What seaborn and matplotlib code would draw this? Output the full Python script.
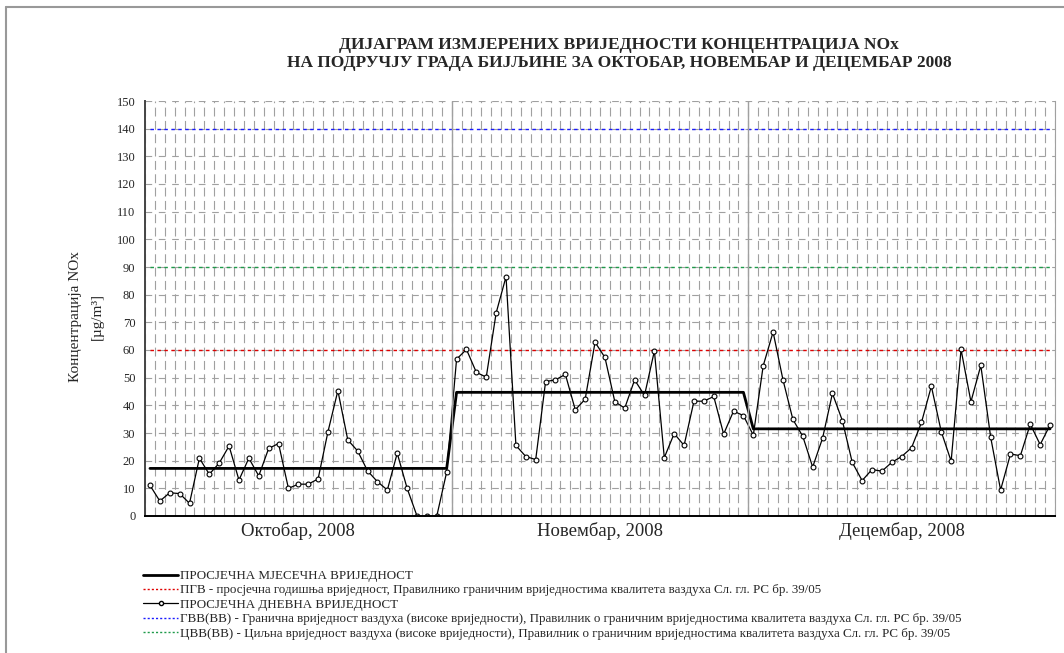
import numpy as np
import pandas as pd
import matplotlib.pyplot as plt
from matplotlib.lines import Line2D
import seaborn as sns

months = ["Октобар, 2008", "Новембар, 2008", "Децембар, 2008"]
oct_values = [11.1, 5.4, 8.4, 8.1, 4.6, 20.9, 15.1, 19.1, 25.3, 13.0, 20.9, 14.5, 24.4, 26.2, 10.0, 11.5,
              11.5, 13.4, 30.5, 45.3, 27.5, 23.5, 16.3, 12.4, 9.4, 22.7, 10.0, 0, 0, 0, 15.9]
nov_values = [56.7, 60.2, 51.9, 50.2, 73.4, 86.5, 25.5, 21.5, 20.4, 48.6, 49.2, 51.2, 38.4, 42.2, 62.8,
              57.3, 41.3, 39.0, 49.2, 43.6, 59.7, 21.1, 29.8, 25.5, 41.5, 41.5, 43.2, 29.6, 37.9, 36.3]
dec_values = [29.2, 54.3, 66.5, 49.2, 34.9, 28.8, 17.7, 28.1, 44.3, 34.5, 19.4, 12.8, 16.8, 16.2, 19.4, 21.5,
              24.7, 33.8, 46.9, 30.5, 19.8, 60.2, 41.3, 54.4, 28.4, 9.4, 22.4, 21.8, 33.2, 25.8, 32.9]
monthly_avg = [17.2, 44.7, 31.5]
pgv_limit = 60
cvv_limit = 90
gvv_limit = 140

month_values = [oct_values, nov_values, dec_values]
rows = []
for m, vals in enumerate(month_values):
    for v in vals:
        rows.append({"month": m, "daily": v, "avg": monthly_avg[m]})
df = pd.DataFrame(rows)
df["day"] = np.arange(len(df))
n = len(df)
df["pgv"] = pgv_limit
df["cvv"] = cvv_limit
df["gvv"] = gvv_limit

sns.set_style("white")
plt.rcParams["font.family"] = ["Liberation Serif", "DejaVu Serif"]

fig = plt.figure(figsize=(10.64, 6.53), dpi=100)
ax = fig.add_axes([145 / 1064, 137 / 653, 910 / 1064, 415 / 653])

# limit lines
sns.lineplot(data=df, x="day", y="gvv", ax=ax, color="#1a1aff", lw=1, linestyle=(0, (2.5, 2.5)))
sns.lineplot(data=df, x="day", y="cvv", ax=ax, color="#1e9a4a", lw=1, linestyle=(0, (2.5, 2.5)))
sns.lineplot(data=df, x="day", y="pgv", ax=ax, color="#e00000", lw=1, linestyle=(0, (2.5, 2.5)))

# monthly average and daily values
sns.lineplot(data=df, x="day", y="avg", ax=ax, color="black", lw=2)
sns.lineplot(data=df, x="day", y="daily", ax=ax, color="black", lw=0.9, marker="o",
             markersize=3.5, markerfacecolor="white", markeredgecolor="black", markeredgewidth=0.8)

ax.set_xlim(-0.5, n - 0.5)
ax.set_ylim(0, 150)
ax.set_yticks(np.arange(0, 151, 10))
ax.set_xticks(np.arange(-0.5, n, 1))
ax.set_xticklabels([])
ax.tick_params(axis="x", length=3, width=0.8, direction="out", color="black")
ax.tick_params(axis="y", length=5, width=0.8, direction="out", color="#555555", labelsize=9, pad=2)
ax.set_xlabel("")
ax.set_ylabel("")

ax.grid(axis="x", color="#a0a0a0", lw=0.8, linestyle=(0, (8, 4)))
ax.grid(axis="y", color="#a0a0a0", lw=0.8, linestyle=(0, (6, 6)))
ax.set_axisbelow(True)

# month separators
start = 0
for vals in month_values[:-1]:
    start += len(vals)
    ax.axvline(start - 0.5, color="#a0a0a0", lw=1)

start = 0
for name, vals in zip(months, month_values):
    ax.text(start + len(vals) / 2 - 0.5, -0.037, name, transform=ax.get_xaxis_transform(),
            ha="center", va="center", fontsize=13.5)
    start += len(vals)

ax.spines["top"].set_visible(False)
ax.spines["right"].set_color("#a0a0a0")
ax.spines["left"].set_color("#444444")
ax.spines["left"].set_linewidth(1.4)
ax.spines["bottom"].set_color("black")
ax.spines["bottom"].set_linewidth(1.4)

fig.text(619 / 1064, 1 - 45 / 653, "ДИЈАГРАМ ИЗМЈЕРЕНИХ ВРИЈЕДНОСТИ КОНЦЕНТРАЦИЈА NOx",
         ha="center", va="center", fontsize=12.5, fontweight="bold")
fig.text(619 / 1064, 1 - 63 / 653, "НА ПОДРУЧЈУ ГРАДА БИЈЉИНЕ ЗА ОКТОБАР, НОВЕМБАР И ДЕЦЕМБАР 2008",
         ha="center", va="center", fontsize=12.5, fontweight="bold")
fig.text(75 / 1064, 1 - 317 / 653, "Концентрација NOx", rotation=90, ha="center", va="center", fontsize=11)
fig.text(97 / 1064, 1 - 317 / 653, "[µg/m³]", rotation=90, ha="center", va="center", fontsize=11)

# outer border (top and left visible)
fig.add_artist(Line2D([6 / 1064, 6 / 1064], [0, 1 - 7 / 653], color="#999999", lw=1.5,
                      transform=fig.transFigure))
fig.add_artist(Line2D([6 / 1064, 1], [1 - 7 / 653, 1 - 7 / 653], color="#999999", lw=1.5,
                      transform=fig.transFigure))

handles = [
    Line2D([], [], color="black", lw=2),
    Line2D([], [], color="#e00000", lw=1, linestyle=(0, (1.5, 1.5))),
    Line2D([], [], color="black", lw=0.9, marker="o", markersize=3,
           markerfacecolor="white", markeredgecolor="black"),
    Line2D([], [], color="#1a1aff", lw=1, linestyle=(0, (1.5, 1.5))),
    Line2D([], [], color="#1e9a4a", lw=1, linestyle=(0, (1.5, 1.5))),
]
labels = [
    "ПРОСЈЕЧНА МЈЕСЕЧНА ВРИЈЕДНОСТ",
    "ПГВ - просјечна годишња вриједност, Правилнико граничним вриједностима квалитета ваздуха Сл. гл. РС бр. 39/05",
    "ПРОСЈЕЧНА ДНЕВНА ВРИЈЕДНОСТ",
    "ГВВ(ВВ) - Гранична вриједност ваздуха (високе вриједности), Правилник о граничним вриједностима квалитета ваздуха Сл. гл. РС бр. 39/05",
    "ЦВВ(ВВ) - Циљна вриједност ваздуха (високе вриједности), Правилник о граничним вриједностима квалитета ваздуха Сл. гл. РС бр. 39/05",
]
fig.legend(handles, labels, loc="upper left", bbox_to_anchor=(143 / 1064, 1 - 570 / 653), frameon=False,
           fontsize=9.4, handlelength=2.7, handletextpad=0.1, labelspacing=0.17, borderaxespad=0,
           borderpad=0)

fig.savefig("out.png", dpi=100)
